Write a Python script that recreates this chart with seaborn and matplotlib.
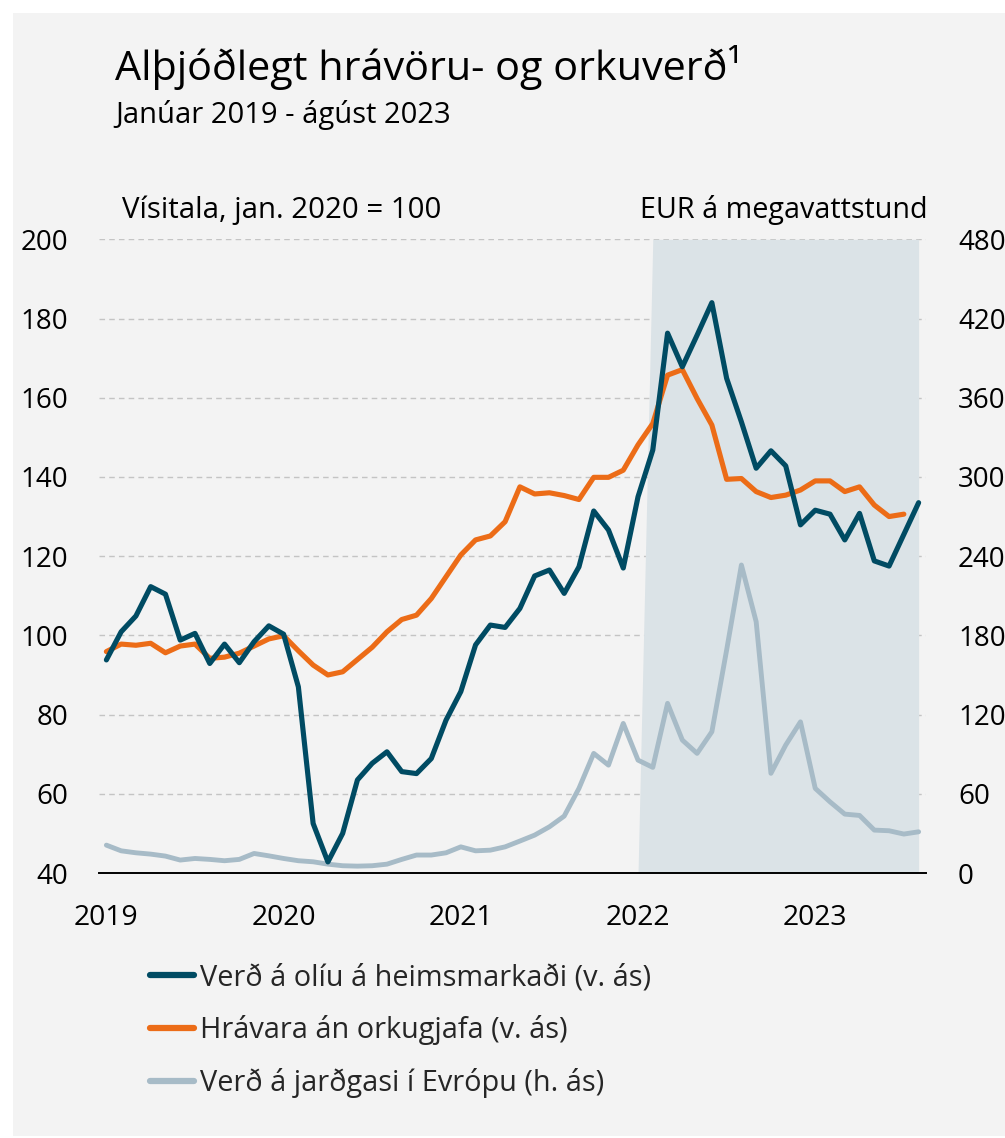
import matplotlib
matplotlib.use("Agg")
import matplotlib.pyplot as plt
import seaborn as sns
import pandas as pd
from matplotlib.patches import Rectangle
from matplotlib.lines import Line2D

# ---------------- data ----------------
start_year = 2019
n_months = 56  # Jan 2019 - Aug 2023

oil = [93.8, 100.9, 104.9, 112.3, 110.4, 98.8, 100.5, 92.9, 97.8, 93.1, 98.4, 102.4,
       100.3, 87.0, 52.5, 42.8, 50.0, 63.5, 67.7, 70.6, 65.6, 65.1, 68.9, 78.6,
       85.8, 97.6, 102.6, 102.0, 106.8, 115.0, 116.5, 110.6, 117.3, 131.4, 126.6, 117.0,
       135.0, 146.8, 176.3, 167.8, 175.8, 184.0, 164.9, 153.9, 142.2, 146.6, 142.8, 127.9,
       131.6, 130.6, 124.1, 130.8, 118.8, 117.5, 125.5, 133.5]

nonenergy = [95.9, 97.8, 97.5, 98.0, 95.6, 97.3, 97.8, 94.2, 94.5, 95.5, 97.3, 99.1,
             99.9, 96.1, 92.5, 90.0, 90.8, 93.9, 97.0, 100.9, 104.0, 105.1, 109.3, 114.8,
             120.3, 124.1, 125.1, 128.7, 137.5, 135.7, 136.0, 135.3, 134.3, 139.9, 139.9, 141.7,
             148.1, 153.5, 165.7, 167.1, 159.8, 153.1, 139.4, 139.6, 136.3, 134.8, 135.4, 136.7,
             139.0, 139.0, 136.3, 137.5, 132.9, 130.0, 130.6]

gas = [21.1, 16.8, 15.3, 14.3, 12.8, 9.8, 11.0, 10.3, 9.3, 10.3, 14.8, 13.0,
       11.0, 9.3, 8.5, 6.7, 5.5, 5.2, 5.5, 6.7, 10.3, 13.6, 13.6, 15.3,
       19.8, 16.8, 17.3, 19.8, 24.2, 28.7, 35.0, 43.1, 64.1, 90.6, 81.7, 113.3,
       85.5, 80.0, 128.5, 100.7, 90.6, 107.0, 168.9, 233.3, 190.3, 75.5, 96.9, 114.5,
       64.1, 53.9, 44.6, 43.6, 32.5, 32.0, 29.5, 31.2]

shade_start_index = 37  # Feb 2022 (shaded period)
shade_height = 480

year_labels = ["2019", "2020", "2021", "2022", "2023"]
left_ticks = [40, 60, 80, 100, 120, 140, 160, 180, 200]
right_ticks = [0, 60, 120, 180, 240, 300, 360, 420, 480]

title = "Alþjóðlegt hrávöru- og orkuverð¹"
subtitle = "Janúar 2019 - ágúst 2023"
left_unit = "Vísitala, jan. 2020 = 100"
right_unit = "EUR á megavattstund"
labels = ["Verð á olíu á heimsmarkaði (v. ás)",
          "Hrávara án orkugjafa (v. ás)",
          "Verð á jarðgasi í Evrópu (h. ás)"]

c_oil = "#004b63"
c_orange = "#ec6c17"
c_gas = "#a7bbc7"
c_shade = "#dbe3e7"
c_bg = "#f3f3f3"

# ---------------- frame ----------------
x = [start_year + (i + 0.5) / 12 for i in range(n_months)]
shade = [0 if i < shade_start_index else shade_height for i in range(n_months)]
df = pd.DataFrame({"x": x, "oil": oil,
                   "nonenergy": nonenergy + [float("nan")] * (n_months - len(nonenergy)),
                   "gas": gas, "shade": shade})

sns.set_style("white")
plt.rcParams["font.family"] = ["Open Sans", "DejaVu Sans"]

W, H = 1005, 1138
fig = plt.figure(figsize=(W / 100, H / 100), dpi=100)
fig.patch.set_facecolor("white")
fig.patches.append(Rectangle((13 / W, 1 - 1136 / H), 1, (1136 - 13) / H,
                             transform=fig.transFigure, facecolor=c_bg,
                             edgecolor="none", zorder=-10))

ax = fig.add_axes([99 / W, 1 - 873 / H, 827 / W, (873 - 239.3) / H])
ax2 = ax.twinx()
ax.set_zorder(2)
ax2.set_zorder(1)
ax.patch.set_visible(False)
ax2.patch.set_visible(False)

line_kw = dict(solid_joinstyle="round", solid_capstyle="round")

# right axis: grid, shade, gas
ax2.set_ylim(0, 480)
ax2.set_yticks(right_ticks)
ax2.yaxis.grid(True, linestyle=(0, (4, 3)), color="#c4c4c4", linewidth=1.0)
ax2.set_axisbelow(True)
ax2.fill_between(df["x"], 0, df["shade"], color=c_shade, lw=0, zorder=1)
sns.lineplot(data=df, x="x", y="gas", ax=ax2, color=c_gas, linewidth=3.5, zorder=3, **line_kw)

# left axis: oil, non-energy
sns.lineplot(data=df, x="x", y="nonenergy", ax=ax, color=c_orange, linewidth=3.7, zorder=3, **line_kw)
sns.lineplot(data=df, x="x", y="oil", ax=ax, color=c_oil, linewidth=3.7, zorder=4, **line_kw)
ax.set_ylim(40, 200)
ax.set_yticks(left_ticks)
ax.set_xlim(start_year, start_year + n_months / 12)

for a in (ax, ax2):
    for s in a.spines.values():
        s.set_visible(False)
    a.set_xlabel("")
    a.set_ylabel("")
ax.spines["bottom"].set_visible(True)
ax.spines["bottom"].set_color("black")
ax.spines["bottom"].set_linewidth(1.4)

years = [start_year + k for k in range(len(year_labels))]
ax.set_xticks(years)
ax.set_xticklabels([])
ax.tick_params(axis="x", which="major", length=8.5, width=1.4, color="black", direction="out")
ax.set_xticks([y + 0.5 / 12 for y in years], minor=True)
ax.set_xticklabels(year_labels, minor=True)
ax.tick_params(axis="x", which="minor", length=0, pad=22, labelsize=20.3, labelcolor="black")
ax.tick_params(axis="y", length=0, pad=22, labelsize=20, labelcolor="black")
ax2.tick_params(axis="y", length=0, pad=23, labelsize=20, labelcolor="black")

# ---------------- texts ----------------
fig.text(115 / W, 1 - 80 / H, title, fontsize=29.8, va="baseline", ha="left", color="black")
fig.text(115 / W, 1 - 123 / H, subtitle, fontsize=21, va="baseline", ha="left", color="black")
fig.text(122 / W, 1 - 218 / H, left_unit, fontsize=21.2, va="baseline", ha="left", color="black")
fig.text(928 / W, 1 - 218 / H, right_unit, fontsize=20.7, va="baseline", ha="right", color="black")

handles = [Line2D([], [], color=c, lw=4.5, solid_capstyle="round") for c in (c_oil, c_orange, c_gas)]
fig.legend(handles, labels, loc="upper left", bbox_to_anchor=(150 / W, 1 - 963 / H),
           bbox_transform=fig.transFigure, frameon=False, fontsize=20.8,
           handlelength=1.53, handletextpad=0.2, labelspacing=0.8,
           borderpad=0, borderaxespad=0)

fig.savefig("out.png", dpi=100, facecolor=fig.get_facecolor())
